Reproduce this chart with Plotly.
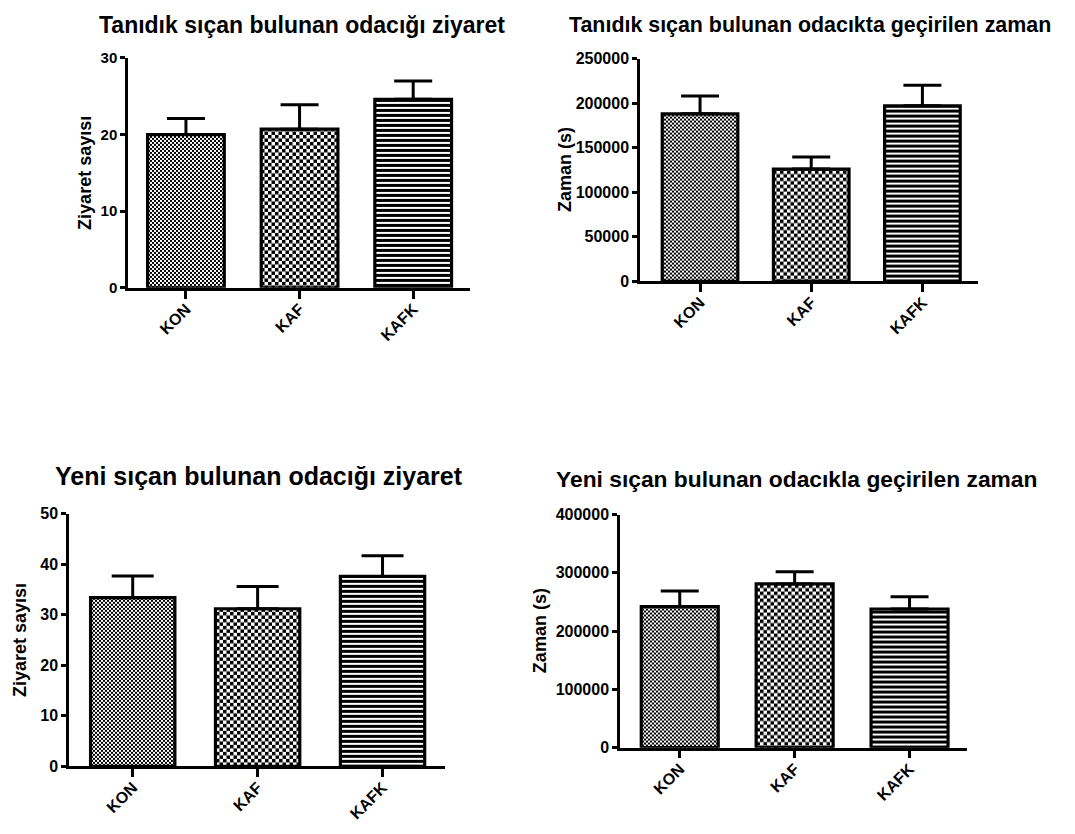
import plotly.graph_objects as go

groups = ["KON", "KAF", "KAFK"]

# Familiar-rat chamber: visit counts
fam_visits_mean = [20.0, 20.7, 24.6]
fam_visits_sem = [2.1, 3.2, 2.4]
# Familiar-rat chamber: time spent
fam_time_mean = [188000, 126000, 197000]
fam_time_sem = [20000, 13500, 23000]
# Novel-rat chamber: visit counts
new_visits_mean = [33.4, 31.2, 37.6]
new_visits_sem = [4.3, 4.4, 4.1]
# Novel-rat chamber: time spent
new_time_mean = [242000, 281000, 238000]
new_time_sem = [27000, 21000, 21000]

titles = [
    "Tanıdık sıçan bulunan odacığı ziyaret",
    "Tanıdık sıçan bulunan odacıkta geçirilen zaman",
    "Yeni sıçan bulunan odacığı ziyaret",
    "Yeni sıçan bulunan odacıkla geçirilen zaman",
]
ylabels = ["Ziyaret sayısı", "Zaman (s)", "Ziyaret sayısı", "Zaman (s)"]

W, H = 1075, 834
FONT = "Liberation Sans"


def checker(size):
    h = size / 2
    return dict(path=f"M0,0H{h}V{h}H0Z M{h},{h}H{size}V{size}H{h}Z",
                size=size, fgcolor="black", bgcolor="white", fillmode="replace")


# fill patterns per group: fine checker, coarse checker, horizontal stripes
patterns = [
    checker(4),
    checker(7),
    dict(shape="-", size=5, solidity=0.6, fgcolor="black", bgcolor="white", fillmode="replace"),
]

# panel geometry in pixels: x-axis left/right, y top/bottom, y max, x range start, bar width
panels = [
    dict(x0=128, x1=470, yt=50, yb=285, ymax=30, dtick=10, r0=-0.51, bw=0.675,
         mean=fam_visits_mean, sem=fam_visits_sem, cap=19, tf=15,
         tx=302, ty=16, tsize=23, lx=85, lsize=18),
    dict(x0=640, x1=978, yt=50.7, yb=278.3, ymax=250000, dtick=50000, r0=-0.54, bw=0.68,
         mean=fam_time_mean, sem=fam_time_sem, cap=19, tf=16,
         tx=810, ty=16, tsize=21.4, lx=565, lsize=18),
    dict(x0=69, x1=445, yt=516, yb=774, ymax=50, dtick=10, r0=-0.51, bw=0.675,
         mean=new_visits_mean, sem=new_visits_sem, cap=21, tf=16,
         tx=259, ty=477, tsize=25, lx=20, lsize=18),
    dict(x0=620, x1=967, yt=516.7, yb=755, ymax=400000, dtick=100000, r0=-0.52, bw=0.67,
         mean=new_time_mean, sem=new_time_sem, cap=19, tf=16,
         tx=796, ty=480, tsize=22.8, lx=540, lsize=18),
]

fig = go.Figure()
annotations = []
layout = {}

for i, p in enumerate(panels):
    n = "" if i == 0 else str(i + 1)
    xa, ya = "x" + n, "y" + n
    # one trace per group so each bar carries its own fill pattern
    for g, grp in enumerate(groups):
        fig.add_trace(go.Bar(
            x=[grp], y=[p["mean"][g]], width=p["bw"],
            xaxis=xa, yaxis=ya,
            marker=dict(color="white", line=dict(color="black", width=3.2),
                        pattern=patterns[g]),
            error_y=dict(type="data", array=[p["sem"][g]], arrayminus=[0],
                         symmetric=False, color="black", thickness=3, width=p["cap"]),
            showlegend=False,
        ))
    layout["xaxis" + n] = dict(
        domain=[p["x0"] / W, p["x1"] / W],
        anchor=ya, range=[p["r0"], 2.5],
        categoryorder="array", categoryarray=groups,
        showline=True, linecolor="black", linewidth=2.5,
        ticks="outside", ticklen=8, tickwidth=2.5, tickcolor="black",
        tickangle=-45, showgrid=False, zeroline=False, ticklabelstandoff=-5,
        tickfont=dict(family=FONT, size=16, color="black", weight="bold"),
    )
    layout["yaxis" + n] = dict(
        domain=[1 - p["yb"] / H, 1 - p["yt"] / H],
        anchor=xa, range=[0, p["ymax"]], dtick=p["dtick"],
        showline=True, linecolor="black", linewidth=2.5,
        ticks="outside", ticklen=5, tickwidth=2.5, tickcolor="black",
        showgrid=False, zeroline=False, tickformat="d",
        tickfont=dict(family=FONT, size=p["tf"], color="black", weight="bold"),
    )
    annotations.append(dict(
        text=titles[i], xref="paper", yref="paper",
        x=p["tx"] / W, y=1 - p["ty"] / H, xanchor="center", yanchor="middle",
        showarrow=False, font=dict(family=FONT, size=p["tsize"], color="black", weight="bold"),
    ))
    annotations.append(dict(
        text=ylabels[i], xref="paper", yref="paper", textangle=-90,
        x=p["lx"] / W, y=1 - (p["yt"] + p["yb"]) / 2 / H, xanchor="center", yanchor="middle",
        showarrow=False, font=dict(family=FONT, size=p["lsize"], color="black", weight="bold"),
    ))

fig.update_layout(
    width=W, height=H, margin=dict(l=0, r=0, t=0, b=0),
    paper_bgcolor="white", plot_bgcolor="white", barmode="overlay",
    annotations=annotations, **layout,
)

fig.write_html("out.html")
